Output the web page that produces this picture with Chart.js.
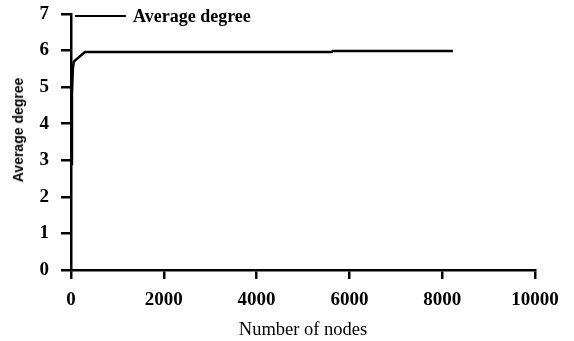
<!DOCTYPE html>
<html>
<head>
<meta charset="utf-8">
<script src="https://cdn.jsdelivr.net/npm/chart.js@4.4.0/dist/chart.umd.min.js"></script>
<style>
  html, body { margin: 0; padding: 0; background: #fff; }
  #wrap { position: relative; width: 574px; height: 341px; }
  #legend {
    position: absolute; left: 75px; top: 5px;
    font-family: "Liberation Serif", "Times New Roman", serif;
    font-size: 18px; font-weight: bold; color: #000;
    display: flex; align-items: center; line-height: 22px;
  }
  #legend .swatch { width: 51px; height: 0; border-top: 2.5px solid #000; margin-right: 7px; }
  #ytitle {
    position: absolute; left: 18px; top: 130px;
    transform: translate(-50%, -50%) rotate(-90deg);
    font-family: "Liberation Sans", Arial, sans-serif;
    font-size: 14px; font-weight: bold; color: #000; white-space: nowrap;
  }
</style>
</head>
<body>
<div id="wrap">
  <canvas id="chart" width="574" height="341"></canvas>
  <div id="legend"><span class="swatch"></span><span id="legend-text"></span></div>
  <div id="ytitle"></div>
</div>
<script>
// Data
const nodes  = [10, 20, 40, 60, 300, 5620, 5640, 8230];
const degree = [2.9, 4.8, 5.5, 5.7, 5.96, 5.96, 5.99, 5.99];
const seriesName = 'Average degree';
const xTitle = 'Number of nodes';
const yTitle = 'Average degree';

document.addEventListener('DOMContentLoaded', () => {
    const ctx = document.getElementById('chart').getContext('2d');
    const serif = '"Liberation Serif", "Times New Roman", serif';

    document.getElementById('legend-text').textContent = seriesName;
    document.getElementById('ytitle').textContent = yTitle;

    const points = nodes.map((n, i) => ({ x: n, y: degree[i] }));

    new Chart(ctx, {
        type: 'line',
        data: {
            datasets: [{
                label: seriesName,
                data: points,
                borderColor: '#000',
                borderWidth: 2.5,
                pointRadius: 0,
                tension: 0,
                fill: false
            }]
        },
        options: {
            responsive: false,
            animation: false,
            layout: { padding: { top: 14, right: 39, left: 0, bottom: 0 } },
            plugins: {
                legend: { display: false },
                tooltip: { enabled: false }
            },
            scales: {
                x: {
                    type: 'linear',
                    min: 0,
                    max: 10000,
                    afterFit: (axis) => { axis.height = 71; },
                    border: { display: true, color: '#000', width: 2.5 },
                    grid: { drawOnChartArea: false, drawTicks: true, tickLength: 9, color: '#000', lineWidth: 2.5 },
                    ticks: {
                        stepSize: 2000,
                        color: '#000',
                        padding: 10,
                        maxRotation: 0,
                        callback: (v) => String(v),
                        font: { family: serif, size: 19, weight: 'bold' }
                    },
                    title: {
                        display: true,
                        text: xTitle,
                        color: '#000',
                        padding: { top: 0, bottom: 0 },
                        font: { family: serif, size: 18.5 }
                    }
                },
                y: {
                    min: 0,
                    max: 7,
                    afterFit: (axis) => {
                        axis.width = 71;
                        axis.paddingTop = 0;
                        axis.paddingBottom = 0;
                    },
                    border: { display: true, color: '#000', width: 2.5 },
                    grid: { drawOnChartArea: false, drawTicks: true, tickLength: 10, color: '#000', lineWidth: 2.5 },
                    ticks: {
                        stepSize: 1,
                        color: '#000',
                        padding: 12,
                        font: { family: serif, size: 19, weight: 'bold' }
                    }
                }
            }
        }
    });
});
</script>
</body>
</html>
